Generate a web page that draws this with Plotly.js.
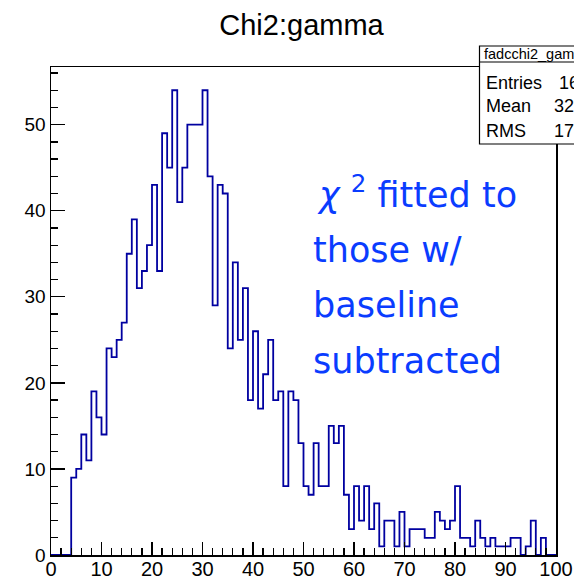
<!DOCTYPE html>
<html>
<head>
<meta charset="utf-8">
<script src="https://cdn.plot.ly/plotly-3.0.1.min.js"></script>
<style>
html,body{margin:0;padding:0;background:#fff;}
#chart{width:574px;height:581px;}
</style>
</head>
<body>
<div id="chart"></div>
<script>
// ---- data (bin contents, 100 bins of width 1 from 0 to 100) ----
const histName = 'fadcchi2_gamma';
const chartTitle = 'Chi2:gamma';
const xMin = 0;
const xMax = 100;
const binWidth = 1;
const counts = [
  0, 0, 0, 0, 9, 10, 14, 11, 19, 16,
  14, 24, 23, 25, 27, 35, 39, 31, 33, 36,
  43, 33, 49, 45, 54, 41, 45, 50, 50, 50,
  54, 44, 29, 43, 42, 24, 34, 25, 31, 18,
  26, 17, 21, 25, 18, 19, 8, 19, 18, 13,
  8, 7, 13, 8, 8, 15, 13, 15, 7, 3,
  8, 4, 8, 3, 6, 1, 4, 4, 1, 5,
  1, 3, 3, 3, 2, 2, 5, 4, 3, 4,
  8, 2, 2, 1, 4, 2, 1, 2, 1, 1,
  1, 2, 2, 0, 1, 4, 0, 2, 0, 0
];
const statLabels = ['Entries', 'Mean', 'RMS'];
const statValues = ['16', '32', '17'];   // only the visible (clipped) part
const noteLines = ['<i>χ</i> <sup>2</sup> fitted to', 'those w/', 'baseline', 'subtracted'];
const yMax = 56.7;

// ---- build step line through bin edges ----
const edges = [];
const stepY = [];
for (let i = 0; i < counts.length; i++) {
  edges.push(xMin + i * binWidth);
  stepY.push(counts[i]);
}
edges.push(xMin + counts.length * binWidth);
stepY.push(counts[counts.length - 1]);

// ---- layout geometry helpers (pixel -> paper) ----
const W = 574, H = 581;
const L = 51, R = 556, T = 67, B = 555;
const px = p => (p - L) / (R - L);
const py = p => (B - p) / (B - T);

const FONT = 'Liberation Sans, Arial, Helvetica, sans-serif';
const NOTE_FONT = 'DejaVu Sans, Verdana, sans-serif';
const noteColor = '#0a3cff';

const annotations = [];
// stats box texts
annotations.push({xref:'paper', yref:'paper', x: px(482), y: py(54), xanchor:'left', yanchor:'middle',
  text: histName, showarrow:false, font:{family:FONT, size:14.5, color:'black'}});
const statY = [83, 106, 131];
const statValX = [557, 552, 552];
statLabels.forEach((s, k) => {
  annotations.push({xref:'paper', yref:'paper', x: px(484), y: py(statY[k]), xanchor:'left', yanchor:'middle',
    text: s, showarrow:false, font:{family:FONT, size:18, color:'black'}});
  annotations.push({xref:'paper', yref:'paper', x: px(statValX[k]), y: py(statY[k]), xanchor:'left', yanchor:'middle',
    text: statValues[k], showarrow:false, font:{family:FONT, size:18, color:'black'}});
});
// blue note
const noteX = [315, 311, 311, 311];
const noteCenter = [192, 250, 305, 361];
noteLines.forEach((t, k) => {
  annotations.push({xref:'paper', yref:'paper', x: px(noteX[k]), y: py(noteCenter[k]), xanchor:'left', yanchor:'middle',
    text: t, showarrow:false, font:{family:NOTE_FONT, size:35, color:noteColor}});
});

const shapes = [
  {type:'rect', xref:'paper', yref:'paper', x0: px(479.5), x1: px(660), y0: py(144), y1: py(46),
   fillcolor:'white', line:{color:'black', width:1.2}, layer:'above'},
  {type:'line', xref:'paper', yref:'paper', x0: px(479.5), x1: px(660), y0: py(62), y1: py(62),
   line:{color:'black', width:1.2}, layer:'above'}
];

const trace = {
  type:'scatter', mode:'lines',
  x: edges, y: stepY,
  line:{shape:'hv', color:'rgb(0,0,160)', width:1.8},
  hoverinfo:'skip', showlegend:false
};

const layout = {
  width: W, height: H,
  margin:{l:L, r:W - R, t:T, b:H - B, pad:0},
  paper_bgcolor:'white', plot_bgcolor:'white',
  showlegend:false,
  title:{text: chartTitle, font:{family:FONT, size:29, color:'black'},
    xref:'container', yref:'container', x: 301.5 / W, xanchor:'center', y: 1 - 25 / H, yanchor:'middle'},
  xaxis:{range:[xMin, xMax], showgrid:false, zeroline:false,
    showline:true, mirror:true, linecolor:'black', linewidth:1.5,
    ticks:'inside', tickmode:'linear', tick0:0, dtick:10, ticklen:13, tickwidth:1.3, tickcolor:'black',
    ticklabelstandoff:-5,
    minor:{ticks:'inside', dtick:2, ticklen:7, tickwidth:1.3, tickcolor:'black', showgrid:false},
    tickfont:{family:FONT, size:20, color:'black'}},
  yaxis:{range:[0, yMax], showgrid:false, zeroline:false,
    showline:true, mirror:true, linecolor:'black', linewidth:1.5,
    ticks:'inside', tickmode:'linear', tick0:0, dtick:10, ticklen:14, tickwidth:1.3, tickcolor:'black',
    minor:{ticks:'inside', dtick:2, ticklen:7, tickwidth:1.3, tickcolor:'black', showgrid:false},
    tickfont:{family:FONT, size:19, color:'black'}},
  annotations: annotations,
  shapes: shapes
};

Plotly.newPlot('chart', [trace], layout, {staticPlot:true, displayModeBar:false});
</script>
</body>
</html>
